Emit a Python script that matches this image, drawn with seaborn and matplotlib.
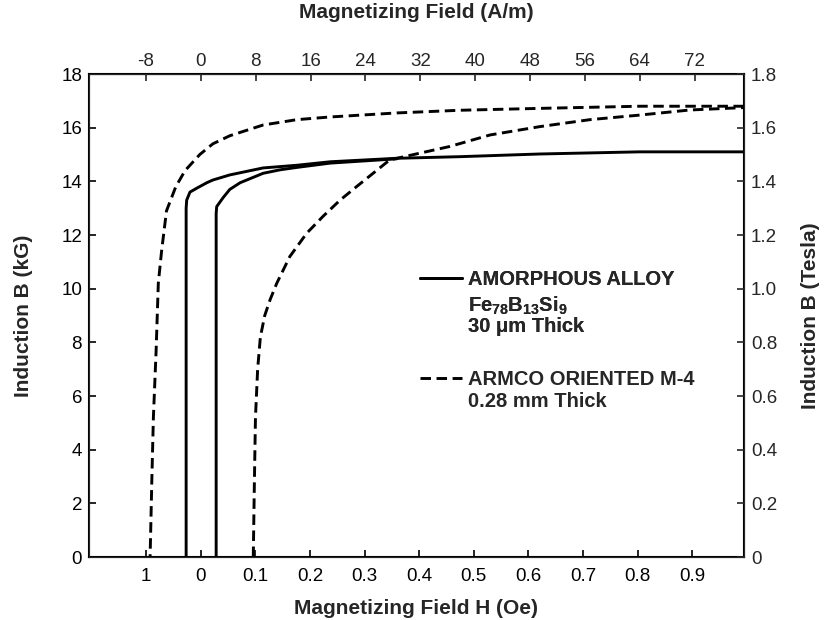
import numpy as np
import pandas as pd
import matplotlib
matplotlib.use("Agg")
import matplotlib.pyplot as plt
from matplotlib.lines import Line2D
import seaborn as sns

# B-H curves: H in Oe, B in kG
amorph_desc_h = [0.995, 0.804, 0.621, 0.475, 0.359, 0.237, 0.176, 0.114, 0.053, 0.022, 0.011, -0.008, -0.020, -0.026, -0.027, -0.027]
amorph_desc_b = [15.10, 15.10, 15.02, 14.92, 14.86, 14.73, 14.60, 14.50, 14.24, 14.05, 13.95, 13.74, 13.60, 13.30, 13.0, 0.0]
amorph_asc_h = [0.028, 0.028, 0.029, 0.041, 0.053, 0.072, 0.084, 0.114, 0.145, 0.176, 0.237, 0.359]
amorph_asc_b = [0.0, 12.80, 13.06, 13.40, 13.70, 13.95, 14.05, 14.30, 14.43, 14.52, 14.68, 14.84]

armco_desc_h = [0.995, 0.804, 0.621, 0.475, 0.359, 0.237, 0.176, 0.114, 0.053, 0.022, -0.002, -0.029, -0.046, -0.063, -0.072, -0.078, -0.082, -0.087, -0.090, -0.093]
armco_desc_b = [16.80, 16.80, 16.72, 16.65, 16.55, 16.40, 16.30, 16.10, 15.70, 15.40, 15.00, 14.40, 13.80, 12.90, 11.40, 10.20, 7.70, 5.20, 2.75, 0.0]
armco_asc_h = [0.096, 0.098, 0.100, 0.104, 0.109, 0.117, 0.127, 0.139, 0.163, 0.194, 0.224, 0.255, 0.285, 0.346, 0.456, 0.530, 0.621, 0.713, 0.804, 0.896, 0.995]
armco_asc_b = [0.0, 2.75, 5.20, 7.00, 8.20, 9.00, 9.60, 10.20, 11.20, 12.07, 12.70, 13.30, 13.80, 14.80, 15.30, 15.73, 16.04, 16.30, 16.47, 16.66, 16.75]

bottom_ticks = [-0.1, 0, 0.1, 0.2, 0.3, 0.4, 0.5, 0.6, 0.7, 0.8, 0.9]
bottom_labels = ["1", "0", "0.1", "0.2", "0.3", "0.4", "0.5", "0.6", "0.7", "0.8", "0.9"]
top_ticks = [-8, 0, 8, 16, 24, 32, 40, 48, 56, 64, 72]
left_ticks = [0, 2, 4, 6, 8, 10, 12, 14, 16, 18]
right_ticks = [0, 0.2, 0.4, 0.6, 0.8, 1.0, 1.2, 1.4, 1.6, 1.8]
right_labels = ["0", "0.2", "0.4", "0.6", "0.8", "1.0", "1.2", "1.4", "1.6", "1.8"]

OE_TO_AM = 79.58
DASH = (0, (3.6, 1.9))

frames = []
for name, h, b in [("amorph_desc", amorph_desc_h, amorph_desc_b),
                   ("amorph_asc", amorph_asc_h, amorph_asc_b),
                   ("armco_desc", armco_desc_h, armco_desc_b),
                   ("armco_asc", armco_asc_h, armco_asc_b)]:
    frames.append(pd.DataFrame({"H": h, "B": b, "branch": name}))
df = pd.concat(frames, ignore_index=True)

sns.set_style("ticks")
plt.rcParams['font.family'] = ['Liberation Sans', 'DejaVu Sans']
plt.rcParams['axes.unicode_minus'] = False
plt.rcParams['mathtext.fontset'] = 'custom'
plt.rcParams['mathtext.rm'] = 'Liberation Sans:bold'
plt.rcParams['mathtext.it'] = 'Liberation Sans:bold'

fig = plt.figure(figsize=(8.27, 6.2), dpi=100)
ax = fig.add_axes([0.1076, 0.1016, 0.792, 0.779])

for branch, sub in df.groupby("branch", sort=False):
    sns.lineplot(data=sub, x="H", y="B", sort=False, estimator=None,
                 color="black", lw=2.1, ax=ax, legend=False)
    ax.lines[-1].set_linestyle("-" if branch.startswith("amorph") else DASH)

ax.set_xlim(-0.205, 0.995)
ax.set_ylim(0, 18)
ax.set_xticks(bottom_ticks)
ax.set_xticklabels(bottom_labels)
ax.set_yticks(left_ticks)
ax.tick_params(direction="in", length=5, width=1.2, labelsize=13.5, colors="black")
ax.tick_params(axis="x", pad=8)
ax.tick_params(axis="y", pad=5)
ax.set_xlabel("Magnetizing Field H (Oe)", fontsize=15, fontweight="bold", labelpad=10)
ax.set_ylabel("Induction B (kG)", fontsize=15, fontweight="bold", labelpad=20)
for s in ax.spines.values():
    s.set_linewidth(1.5)
    s.set_color("black")

top = ax.secondary_xaxis("top", functions=(lambda x: x * OE_TO_AM, lambda x: x / OE_TO_AM))
top.set_xticks(top_ticks)
top.tick_params(direction="in", length=5, width=1.2, labelsize=13.5, pad=3)
top.set_xlabel("Magnetizing Field (A/m)", fontsize=15, fontweight="bold", labelpad=25)

right = ax.twinx()
right.set_ylim(0, 1.8)
right.set_yticks(right_ticks)
right.set_yticklabels(right_labels)
right.tick_params(direction="in", length=5, width=1.2, labelsize=13.5, pad=5)
right.set_ylabel("Induction B (Tesla)", fontsize=15, fontweight="bold", labelpad=17)

leg_kw = dict(loc="upper left", frameon=False, borderpad=0, borderaxespad=0,
              handlelength=2.1, handletextpad=0.3, prop={"weight": "bold", "size": 14.5})
leg1 = ax.legend([Line2D([], [], color="black", lw=2.1), Line2D([], [], color="none")],
                 ["AMORPHOUS ALLOY", "Fe$_{78}$B$_{13}$Si$_{9}$\n30 μm Thick"],
                 bbox_to_anchor=(0.505, 0.594), labelspacing=0.3, **leg_kw)
for t in leg1.get_texts():
    t.set_linespacing(1.0)
ax.add_artist(leg1)
leg2 = right.legend([Line2D([], [], color="black", lw=2.1, ls=DASH), Line2D([], [], color="none")],
                    ["ARMCO ORIENTED M-4", "0.28 mm Thick"],
                    bbox_to_anchor=(0.505, 0.387), labelspacing=0.15, **leg_kw)

fig.savefig("out.png", dpi=100)
